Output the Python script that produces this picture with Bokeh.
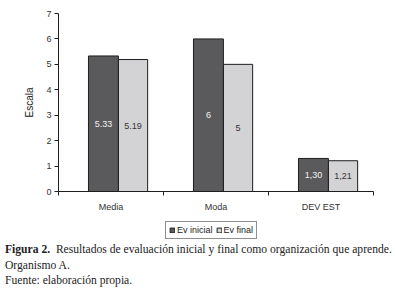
from bokeh.plotting import figure
from bokeh.models import FixedTicker, ColumnDataSource, Legend, LegendItem, Div
from bokeh.layouts import column
from bokeh.transform import dodge
from bokeh.core.properties import value
from bokeh.embed import file_html
from bokeh.resources import INLINE

categories = ["Media", "Moda", "DEV EST"]
ev_inicial = [5.33, 6, 1.30]
ev_final = [5.19, 5, 1.21]
labels_inicial = ["5.33", "6", "1,30"]
labels_final = ["5.19", "5", "1,21"]
y_ticks = [0, 1, 2, 3, 4, 5, 6, 7]
series_names = ["Ev inicial", "Ev final"]
y_label = "Escala"
caption_bold = "Figura 2."
caption_rest = "Resultados de evaluación inicial y final como organización que aprende."
caption_line2 = "Organismo A."
caption_line3 = "Fuente: elaboración propia."

DARK = "#5a5a5c"
LIGHT = "#d3d3d5"
EDGE = "#1e1e1e"
FONT = "Liberation Sans"
W = 387

xc = [i + 0.5 for i in range(len(categories))]
src = ColumnDataSource(dict(
    x=xc,
    ini=ev_inicial, fin=ev_final,
    ini_mid=[v / 2 for v in ev_inicial], fin_mid=[v / 2 for v in ev_final],
    ini_lab=labels_inicial, fin_lab=labels_final,
))

# ---------------- main chart ----------------
MAIN_H = 214
p = figure(width=W, height=MAIN_H, output_backend="svg", toolbar_location=None,
           x_range=(0, len(categories)), y_range=(0, 7),
           min_border_left=58, min_border_right=W - 373, min_border_top=13, min_border_bottom=22,
           sizing_mode="fixed")
p.outline_line_color = None
p.xgrid.visible = False
p.ygrid.visible = False

def add_bars(fig):
    a = fig.vbar(x=dodge("x", -0.072, range=fig.x_range), top="ini", width=0.285, source=src,
                 fill_color=DARK, line_color=EDGE, line_width=1)
    b = fig.vbar(x=dodge("x", 0.21, range=fig.x_range), top="fin", width=0.278, source=src,
                 fill_color=LIGHT, line_color=EDGE, line_width=1)
    return a, b

add_bars(p)

p.text(x=dodge("x", -0.072, range=p.x_range), y="ini_mid", text="ini_lab", source=src,
       text_align="center", text_baseline="middle", text_font_size="9px",
       text_color="#f2f2f2", text_font=value(FONT))
p.text(x=dodge("x", 0.21, range=p.x_range), y="fin_mid", text="fin_lab", source=src,
       text_align="center", text_baseline="middle", text_font_size="9px",
       text_color="#333333", text_font=value(FONT))

# x axis: labels at category centres, tick marks at boundaries
xa = p.xaxis[0]
xa.ticker = FixedTicker(ticks=xc, minor_ticks=list(range(len(categories) + 1)))
xa.major_label_overrides = {c: lab for c, lab in zip(xc, categories)}
xa.major_tick_line_color = None
xa.major_tick_out = 4
xa.major_tick_in = 0
xa.minor_tick_line_color = EDGE
xa.minor_tick_out = 4
xa.minor_tick_in = 0
xa.axis_line_color = EDGE
xa.major_label_text_font = FONT
xa.major_label_text_font_size = "9px"
xa.major_label_text_color = "#333333"
xa.major_label_standoff = 6

ya = p.yaxis[0]
ya.ticker = FixedTicker(ticks=y_ticks)
ya.minor_tick_line_color = None
ya.major_tick_out = 4
ya.major_tick_in = 0
ya.major_tick_line_color = EDGE
ya.axis_line_color = EDGE
ya.major_label_text_font = FONT
ya.major_label_text_font_size = "9px"
ya.major_label_text_color = "#333333"
ya.major_label_standoff = 3
ya.axis_label = y_label
ya.axis_label_text_font = FONT
ya.axis_label_text_font_size = "10px"
ya.axis_label_text_font_style = "normal"
ya.axis_label_text_color = "#222222"
ya.axis_label_standoff = 8

# ---------------- legend strip ----------------
LEG_H = 26
pl = figure(width=W, height=LEG_H, output_backend="svg", toolbar_location=None,
            x_range=(0, len(categories)), y_range=(100, 101),
            min_border=0, sizing_mode="fixed")
pl.axis.visible = False
pl.grid.visible = False
pl.outline_line_color = None
l1, l2 = add_bars(pl)

legend = Legend(items=[LegendItem(label=series_names[0], renderers=[l1]),
                       LegendItem(label=series_names[1], renderers=[l2])],
                orientation="horizontal", location=(107, 1),
                border_line_color=EDGE, border_line_width=1,
                padding=3, spacing=3, margin=0,
                glyph_height=6, glyph_width=6, label_height=6,
                label_standoff=2, label_text_font=FONT, label_text_font_size="9px",
                label_text_color="#222222")
pl.add_layout(legend, "center")

# ---------------- caption ----------------
cap = Div(text=(f'<div style="margin-top:-3px"><b>{caption_bold}</b>&nbsp; {caption_rest}'
                f'<br>{caption_line2}<br>{caption_line3}</div>'),
          width=W, height=291 - MAIN_H - LEG_H, sizing_mode="fixed",
          styles={"font-family": "Liberation Serif", "font-size": "11.6px",
                  "line-height": "15.5px", "color": "#222", "white-space": "nowrap",
                  "padding-left": "0px"})

lay = column(p, pl, cap, spacing=0, sizing_mode="fixed", width=W, height=291)
open("out.html", "w").write(file_html(lay, INLINE))
